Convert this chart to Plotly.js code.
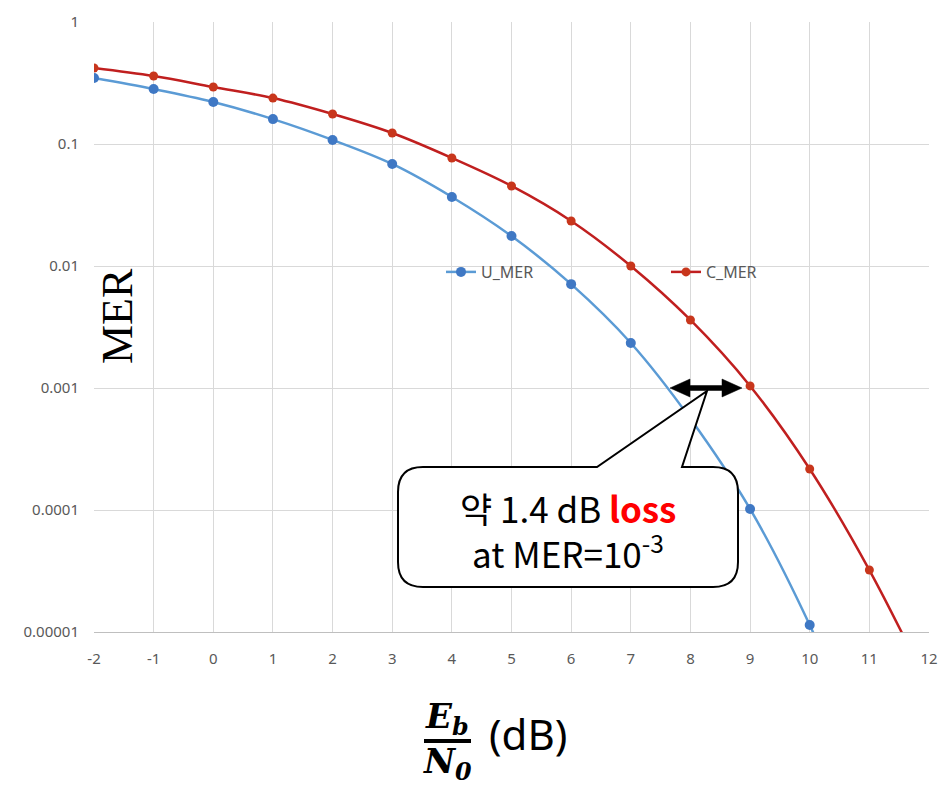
<!DOCTYPE html>
<html>
<head>
<meta charset="utf-8">
<script src="https://cdn.plot.ly/plotly-3.0.1.min.js"></script>
<style>html,body{margin:0;padding:0;background:#fff;}#chart{width:939px;height:786px;}</style>
</head>
<body>
<div id="chart"></div>
<script>
// ---- data ----
const ebn0 = [-2, -1, 0, 1, 2, 3, 4, 5, 6, 7, 8, 9, 10, 11, 12];
const uMer = [0.347, 0.282, 0.221, 0.160, 0.108, 0.0686, 0.0368, 0.0176, 0.0071, 0.00234, 0.00056, 0.000102, 0.0000114, 0.0000008];
const cMer = [0.42, 0.361, 0.293, 0.238, 0.176, 0.123, 0.0768, 0.0453, 0.0234, 0.0100, 0.00361, 0.00104, 0.000217, 0.0000322, 0.0000035];
const yTickVals = [1, 0.1, 0.01, 0.001, 0.0001, 0.00001];
const yTickText = ["1", "0.1", "0.01", "0.001", "0.0001", "0.00001"];
const xTickVals = [-2, -1, 0, 1, 2, 3, 4, 5, 6, 7, 8, 9, 10, 11, 12];
const xTickText = ["-2", "-1", "0", "1", "2", "3", "4", "5", "6", "7", "8", "9", "10", "11", "12"];

// ---- layout helpers (pixel -> paper) ----
const W = 939, H = 786, L = 94, R = 10, T = 22, B = 154;
const PW = W - L - R, PH = H - T - B;
function px(x) { return (x - L) / PW; }
function py(y) { return (H - B - y) / PH; }
function P(x, y) { return px(x).toFixed(5) + "," + py(y).toFixed(5); }

// callout bubble
const bx0 = 398, bx1 = 738, by0 = 467, by1 = 587, rr = 25;
const bubble = "M" + P(bx0 + rr, by0) + " L" + P(597, by0) + " L" + P(707, 391) + " L" + P(682, by0) +
  " L" + P(bx1 - rr, by0) + " Q" + P(bx1, by0) + " " + P(bx1, by0 + rr) +
  " L" + P(bx1, by1 - rr) + " Q" + P(bx1, by1) + " " + P(bx1 - rr, by1) +
  " L" + P(bx0 + rr, by1) + " Q" + P(bx0, by1) + " " + P(bx0, by1 - rr) +
  " L" + P(bx0, by0 + rr) + " Q" + P(bx0, by0) + " " + P(bx0 + rr, by0) + " Z";

// double arrow
const ay = 388;
const arrow = "M" + P(670, ay) + " L" + P(690, ay - 9) + " L" + P(690, ay - 2.5) + " L" + P(722, ay - 2.5) +
  " L" + P(722, ay - 9) + " L" + P(742, ay) + " L" + P(722, ay + 9) + " L" + P(722, ay + 2.5) +
  " L" + P(690, ay + 2.5) + " L" + P(690, ay + 9) + " Z";

const traces = [
  {
    x: ebn0.slice(0, uMer.length), y: uMer, name: "U_MER", type: "scatter", mode: "lines+markers",
    line: { color: "#5b9bd5", width: 2.5, shape: "spline" },
    marker: { color: "#3f78c4", size: 10 },
    legend: "legend"
  },
  {
    x: ebn0.slice(0, cMer.length), y: cMer, name: "C_MER", type: "scatter", mode: "lines+markers",
    line: { color: "#c01f1f", width: 2.5, shape: "spline" },
    marker: { color: "#c8361c", size: 9 },
    legend: "legend2"
  }
];

const tickFont = { family: "Noto Sans, sans-serif", size: 15, color: "#595959" };
const legFont = { family: "Noto Sans, sans-serif", size: 16, color: "#595959" };
const calloutFont = { family: "Noto Sans CJK KR, Noto Sans, sans-serif", size: 35, color: "#000" };

const layout = {
  width: W, height: H,
  margin: { l: L, r: R, t: T, b: B, pad: 0, autoexpand: false },
  paper_bgcolor: "#fff", plot_bgcolor: "#fff",
  showlegend: true,
  legend: { orientation: "h", x: px(441), y: py(272), xanchor: "left", yanchor: "middle",
    bgcolor: "rgba(0,0,0,0)", font: legFont, itemwidth: 30 },
  legend2: { orientation: "h", x: px(666), y: py(272), xanchor: "left", yanchor: "middle",
    bgcolor: "rgba(0,0,0,0)", font: legFont, itemwidth: 30 },
  xaxis: {
    range: [-2, 12], tickvals: xTickVals, ticktext: xTickText, ticks: "", showgrid: true, gridcolor: "#d9d9d9", gridwidth: 1,
    zeroline: false, showline: true, linecolor: "#bfbfbf", linewidth: 1, mirror: false,
    tickfont: tickFont, ticklabelstandoff: 13
  },
  yaxis: {
    type: "log", range: [-5, 0], tickvals: yTickVals, ticktext: yTickText, ticks: "",
    showgrid: true, gridcolor: "#d9d9d9", gridwidth: 1, zeroline: false, showline: false,
    tickfont: tickFont, ticklabelstandoff: 14
  },
  shapes: [
    { type: "path", xref: "paper", yref: "paper", path: bubble, fillcolor: "#ffffff", line: { color: "#000", width: 2 }, layer: "above" },
    { type: "path", xref: "paper", yref: "paper", path: arrow, fillcolor: "#000000", line: { color: "#000", width: 0.5 }, layer: "above" },
    { type: "line", xref: "paper", yref: "paper", x0: px(424), x1: px(471), y0: py(741), y1: py(741), line: { color: "#000", width: 4 } }
  ],
  annotations: [
    { xref: "paper", yref: "paper", x: px(568), y: py(507), showarrow: false, xanchor: "center", yanchor: "middle",
      text: "약 1.4 dB <b><span style='color:#ff0000'>loss</span></b>", font: calloutFont },
    { xref: "paper", yref: "paper", x: px(568), y: py(551), showarrow: false, xanchor: "center", yanchor: "middle",
      text: "at MER=10<sup>-3</sup>", font: calloutFont },
    { xref: "paper", yref: "paper", x: px(117), y: py(316), showarrow: false, textangle: -90, xanchor: "center", yanchor: "middle",
      text: "MER", font: { family: "Liberation Serif, Times New Roman, serif", size: 44, color: "#000" } },
    { xref: "paper", yref: "paper", x: px(447), y: py(718), showarrow: false, xanchor: "center", yanchor: "middle",
      text: "<b><i>E<sub>b</sub></i></b>", font: { family: "DejaVu Serif, serif", size: 34, color: "#000" } },
    { xref: "paper", yref: "paper", x: px(447), y: py(763), showarrow: false, xanchor: "center", yanchor: "middle",
      text: "<b><i>N<sub>0</sub></i></b>", font: { family: "DejaVu Serif, serif", size: 34, color: "#000" } },
    { xref: "paper", yref: "paper", x: px(528), y: py(733), showarrow: false, xanchor: "center", yanchor: "middle",
      text: "(dB)", font: { family: "Noto Sans, sans-serif", size: 42, color: "#000" } }
  ]
};

Plotly.newPlot("chart", traces, layout, { displayModeBar: false, staticPlot: true });
</script>
</body>
</html>
